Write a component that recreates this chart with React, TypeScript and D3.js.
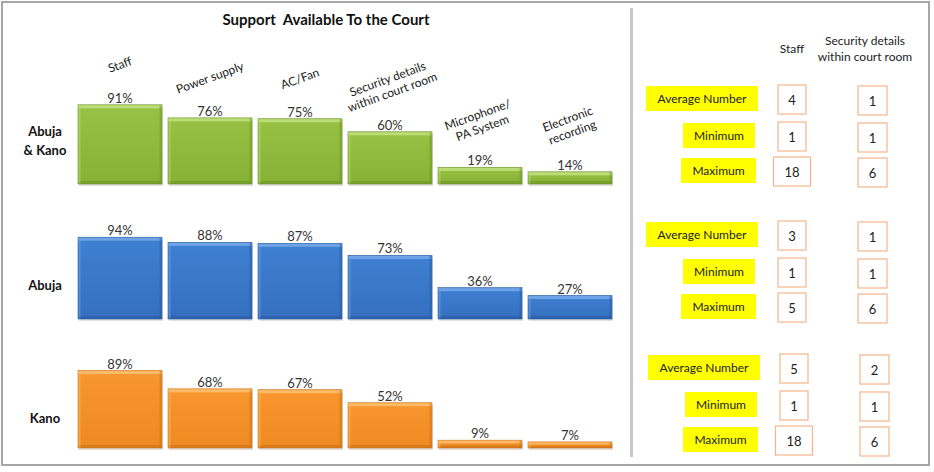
import React from 'react';
import * as d3 from 'd3';

const categories = ['Staff', 'Power supply', 'AC/Fan', 'Security details|within court room', 'Microphone/|PA System', 'Electronic|recording'];
const regions = ['Abuja|& Kano', 'Abuja', 'Kano'];
const abujaKano = [91, 76, 75, 60, 19, 14];
const abuja = [94, 88, 87, 73, 36, 27];
const kano = [89, 68, 67, 52, 9, 7];
const seriesValues = [abujaKano, abuja, kano];

const statLabels = ['Average Number', 'Minimum', 'Maximum'];
const statColumns = ['Staff', 'Security details|within court room'];
const staffStats = [[4, 1, 18], [3, 1, 5], [5, 1, 18]];
const securityStats = [[1, 1, 6], [1, 1, 6], [2, 1, 6]];

const palettes = [
  { light: '#bcdc78', body: '#97c244', bottom: '#86b135', dark: '#6a9226' },
  { light: '#6fa3e6', body: '#3f80d2', bottom: '#356fbf', dark: '#275a9e' },
  { light: '#fbbb68', body: '#f8962f', bottom: '#ee8a22', dark: '#c87018' },
];

const W = 934;
const H = 472;
const baselines = [184, 319, 448];
const font = 'Lato, "Open Sans", sans-serif';

const x = d3.scaleBand<string>().domain(categories).range([78, 612]).paddingInner(6 / 90);
const h = d3.scaleLinear().domain([0, 100]).range([0, 87]);

const lines = (s: string) => s.split('|');

const App: React.FC = () => {
  const statTop = [86, 222, 355];
  const statRowOff = [0, 37, 72];
  const labelBox = [
    { x: 646, w: 112 },
    { x: 683, w: 72 },
    { x: 681, w: 75 },
  ];
  return (
    <svg width={W} height={H} style={{ position: 'absolute', left: 0, top: 0 }} fontFamily={font}>
      <defs>
        {palettes.map((p, i) => (
          <linearGradient key={i} id={`g${i}`} x1="0" y1="0" x2="0" y2="1">
            <stop offset="0" stopColor={p.body} />
            <stop offset="1" stopColor={p.bottom} />
          </linearGradient>
        ))}
      </defs>
      <rect x={0} y={0} width={W} height={H} fill="#fff" />
      <rect x={2} y={2} width={927} height={463} fill="none" stroke="#a6a6a6" strokeWidth={2} />
      <rect x={630} y={8} width={3} height={449} fill="#c8c8c8" />

      <text x={326} y={25} textAnchor="middle" fontSize={15} fontWeight="bold" fill="#111" style={{ whiteSpace: 'pre' }}>
        Support  Available To the Court
      </text>

      {/* category labels, rotated above top row bars */}
      {categories.map((c, i) => {
        const ls = lines(c);
        const cx = (x(c) as number) + x.bandwidth() / 2;
        const top = baselines[0] - h(abujaKano[i]);
        const cy = top - (ls.length > 1 ? 46 : 40);
        return (
          <text key={c} transform={`translate(${cx},${cy}) rotate(-20)`} textAnchor="middle" fontSize={12} fill="#222">
            {ls.map((l, j) => (
              <tspan key={j} x={0} y={(j - (ls.length - 1) / 2) * 14 + 4}>{l}</tspan>
            ))}
          </text>
        );
      })}

      {seriesValues.map((vals, r) => {
        const p = palettes[r];
        const base = baselines[r];
        const ls = lines(regions[r]);
        const labelY = r === 0 ? 140 : r === 1 ? 285 : 418;
        return (
          <g key={r}>
            <text x={45} textAnchor="middle" fontSize={13} fontWeight="bold" fill="#111">
              {ls.map((l, j) => (
                <tspan key={j} x={45} y={labelY + (j - (ls.length - 1) / 2) * 19 + 5}>{l}</tspan>
              ))}
            </text>
            {vals.map((v, i) => {
              const bx = x(categories[i]) as number;
              const bw = x.bandwidth();
              const bh = h(v);
              const by = base - bh;
              const bev = Math.min(3, bh / 3);
              return (
                <g key={i}>
                  <rect x={bx + 1} y={by + 2} width={bw} height={bh} fill="rgba(0,0,0,0.12)" />
                  <rect x={bx} y={by} width={bw} height={bh} fill={`url(#g${r})`} stroke={p.dark} strokeWidth={0.6} />
                  <rect x={bx + 0.5} y={by + 0.5} width={bw - 1} height={bev} fill={p.light} />
                  <rect x={bx + 0.5} y={base - bev} width={bw - 1} height={bev} fill={p.dark} opacity={0.55} />
                  <rect x={bx + 0.5} y={by + 0.5} width={2} height={bh - 1} fill={p.light} opacity={0.5} />
                  <rect x={bx + bw - 2.5} y={by + 0.5} width={2} height={bh - 1} fill={p.dark} opacity={0.45} />
                  <text x={bx + bw / 2} y={by - 2} textAnchor="middle" fontSize={13} fill="#333">{`${v}%`}</text>
                </g>
              );
            })}
          </g>
        );
      })}

      {/* right panel: headers */}
      {statColumns.map((c, k) => {
        const ls = lines(c);
        const cx = k === 0 ? 792 : 865;
        return (
          <text key={c} textAnchor="middle" fontSize={12} fill="#222">
            {ls.map((l, j) => (
              <tspan key={j} x={cx} y={49 + (j - (ls.length - 1) / 2) * 16 + 4}>{l}</tspan>
            ))}
          </text>
        );
      })}

      {regions.map((_, g) => (
        <g key={g}>
          {statLabels.map((s, i) => {
            const y0 = statTop[g] + statRowOff[i];
            const lb = labelBox[i];
            const staff = staffStats[g][i];
            const sec = securityStats[g][i];
            const sw = staff >= 10 ? 37 : 28;
            return (
              <g key={s}>
                <rect x={lb.x + (g === 2 ? 2 : 0)} y={y0} width={lb.w} height={25} fill="#ffff00" />
                <text x={lb.x + (g === 2 ? 2 : 0) + lb.w / 2} y={y0 + 17} textAnchor="middle" fontSize={12} fill="#222">{s}</text>
                <rect x={792 - sw / 2 + (g === 2 ? 2 : 0)} y={y0 - 1} width={sw} height={29} fill="#fff" stroke="#f5b48c" strokeWidth={1.2} />
                <text x={792 + (g === 2 ? 2 : 0)} y={y0 + 19} textAnchor="middle" fontSize={13} fill="#222">{staff}</text>
                <rect x={858 + (g === 2 ? 2 : 0)} y={y0} width={29} height={29} fill="#fff" stroke="#f5b48c" strokeWidth={1.2} />
                <text x={872.5 + (g === 2 ? 2 : 0)} y={y0 + 20} textAnchor="middle" fontSize={13} fill="#222">{sec}</text>
              </g>
            );
          })}
        </g>
      ))}
    </svg>
  );
};

export default App;
